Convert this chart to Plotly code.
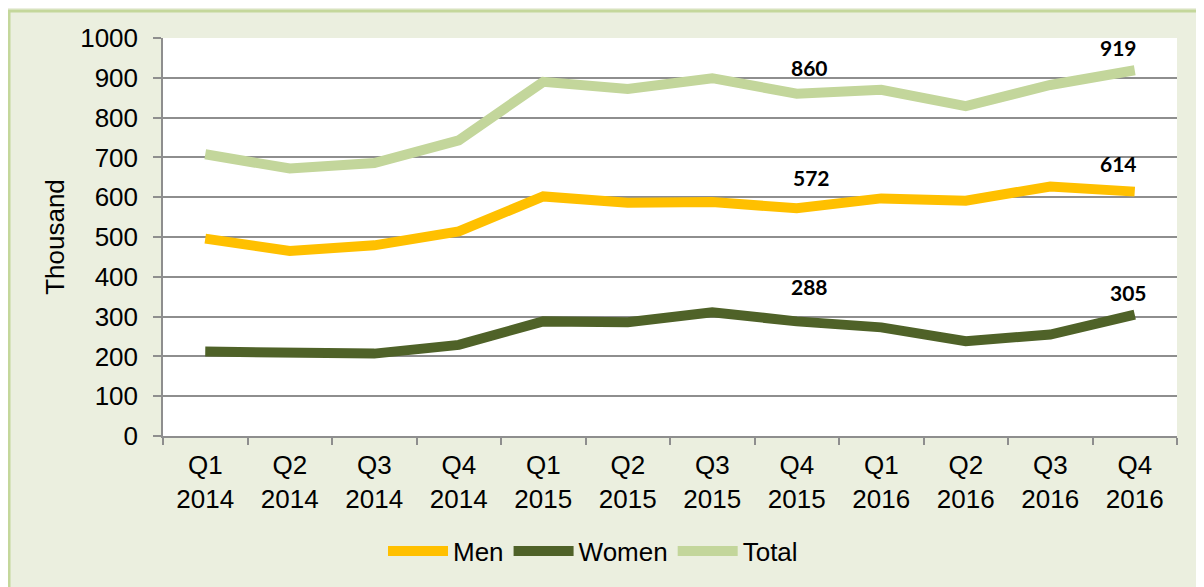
import plotly.graph_objects as go

categories = ["Q1<br>2014", "Q2<br>2014", "Q3<br>2014", "Q4<br>2014",
              "Q1<br>2015", "Q2<br>2015", "Q3<br>2015", "Q4<br>2015",
              "Q1<br>2016", "Q2<br>2016", "Q3<br>2016", "Q4<br>2016"]
men = [496, 465, 479, 514, 602, 586, 588, 572, 597, 591, 627, 614]
women = [212, 207, 207, 229, 288, 286, 311, 288, 273, 238, 255, 305]
total = [708, 672, 686, 743, 890, 872, 899, 860, 870, 829, 882, 919]
labelled_idx = [7, 11]

series = [("Men", men, "#FFC000"), ("Women", women, "#4F6228"), ("Total", total, "#C3D69B")]

# label placement (pixel shifts), per series and labelled point
label_shift = {
    ("Men", 7): (15, 31), ("Women", 7): (13, 35), ("Total", 7): (13, 26),
    ("Men", 11): (-16, 28), ("Women", 11): (-6, 22), ("Total", 11): (-16, 23),
}

fig = go.Figure()
for name, vals, col in series:
    fig.add_trace(go.Scatter(x=categories, y=vals, name=name, mode="lines",
                             line=dict(color=col, width=10)))

for name, vals, col in series:
    for i in labelled_idx:
        dx, dy = label_shift[(name, i)]
        fig.add_annotation(x=categories[i], y=vals[i], text=f"<b>{vals[i]}</b>",
                           showarrow=False, xshift=dx, yshift=dy,
                           font=dict(family="Lato", size=21, color="black"))

# page body has an 8px margin; size the figure so it fits the 1204x587 window
W, H = 1196, 579
L, R, T, B = 155, 27, 30, 151
pw, ph = W - L - R, H - T - B
fig.add_shape(type="rect", xref="paper", yref="paper",
              x0=(1 - L) / pw, x1=(W + 50 - L) / pw,
              y0=-(H + 50 - (T + ph)) / ph, y1=(T + ph - 3) / ph,
              line=dict(color="#C4D79B", width=3), fillcolor="rgba(0,0,0,0)", layer="below")

grid = "#8E8E8E"
fig.update_layout(
    width=W, height=H,
    margin=dict(l=L, r=R, t=T, b=B, autoexpand=False),
    paper_bgcolor="#EBEFDF", plot_bgcolor="white",
    font=dict(family="Liberation Sans", size=26, color="black"),
    showlegend=True,
    legend=dict(orientation="h", xref="container", x=(393 - 8 - 73 + 73 - 10) / W,
                xanchor="left", yref="container",
                y=1 - (551 - 8) / H, yanchor="middle", font=dict(size=26),
                bgcolor="rgba(0,0,0,0)", itemwidth=60, tracegroupgap=0),
    xaxis=dict(type="category", range=[-0.5, len(categories) - 0.5], automargin=False,
               showgrid=False, showline=True, linecolor=grid, linewidth=1.5,
               ticks="outside", ticklen=7, tickcolor=grid, tickwidth=1.5, tickson="boundaries",
               ticklabelstandoff=5, tickfont=dict(size=26)),
    yaxis=dict(range=[0, 1000], dtick=100, showgrid=True, gridcolor=grid, gridwidth=1.5,
               automargin=False, zeroline=False, showline=True, linecolor=grid, linewidth=1.5,
               ticks="outside", ticklen=8, tickcolor=grid, tickwidth=1.5,
               ticklabelstandoff=10,
               title=dict(text="Thousand", font=dict(size=26), standoff=8),
               tickfont=dict(size=26)),
)

fig.write_html("out.html")
